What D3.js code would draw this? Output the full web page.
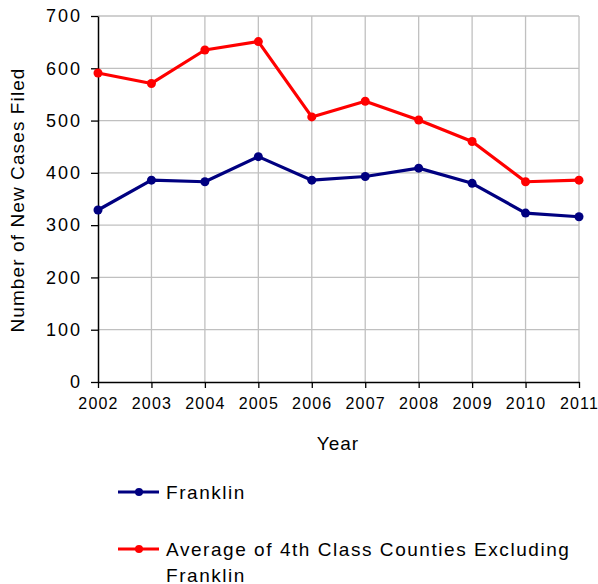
<!DOCTYPE html>
<html>
<head>
<meta charset="utf-8">
<script src="https://cdn.jsdelivr.net/npm/d3@7"></script>
<style>
  body { margin: 0; background: #fff; }
  svg { display: block; font-family: "Liberation Sans", Arial, sans-serif; }
</style>
</head>
<body>
<svg id="chart" width="598" height="584"></svg>
<script>
// data
var years = [2002, 2003, 2004, 2005, 2006, 2007, 2008, 2009, 2010, 2011];
var franklin = [329, 386, 383, 431, 386, 393, 409, 380, 323, 316];
var average4th = [591, 571, 635, 651, 507, 537, 501, 460, 383, 386];
var yTicks = [0, 100, 200, 300, 400, 500, 600, 700];

var seriesNames = ["Franklin", "Average of 4th Class Counties Excluding Franklin"];
var seriesColors = ["#000080", "#ff0000"];

var svg = d3.select("#chart");
var plotLeft = 98, plotRight = 579, plotTop = 16, plotBottom = 382;

var x = d3.scalePoint().domain(years).range([plotLeft, plotRight]);
var y = d3.scaleLinear().domain([0, 700]).range([plotBottom, plotTop]);

// grid
var grid = svg.append("g");
grid.selectAll("line.h").data(yTicks.slice(1)).enter().append("line")
  .attr("x1", plotLeft).attr("x2", plotRight)
  .attr("y1", function(d) { return y(d); }).attr("y2", function(d) { return y(d); })
  .attr("stroke", "#c0c0c0").attr("stroke-width", 1.3);
grid.selectAll("line.v").data(years.slice(1)).enter().append("line")
  .attr("y1", plotTop).attr("y2", plotBottom)
  .attr("x1", function(d) { return x(d); }).attr("x2", function(d) { return x(d); })
  .attr("stroke", "#c0c0c0").attr("stroke-width", 1.3);

// axes
var yAxis = svg.append("g").attr("transform", "translate(" + plotLeft + ",0)")
  .call(d3.axisLeft(y).tickValues(yTicks).tickSize(7).tickPadding(9).tickSizeOuter(0));
yAxis.select(".domain").attr("stroke", "#000").attr("stroke-width", 1.5);
yAxis.selectAll(".tick line").attr("stroke", "#000").attr("stroke-width", 1.3);
yAxis.selectAll("text").attr("font-size", 18).attr("fill", "#000")
  .attr("font-family", "Liberation Sans, Arial, sans-serif")
  .style("letter-spacing", "2px");

var xAxis = svg.append("g").attr("transform", "translate(0," + plotBottom + ")")
  .call(d3.axisBottom(x).tickSize(6).tickPadding(10).tickSizeOuter(0));
xAxis.select(".domain").attr("stroke", "#000").attr("stroke-width", 1.5);
xAxis.selectAll(".tick line").attr("stroke", "#000").attr("stroke-width", 1.3);
xAxis.selectAll("text").attr("font-size", 16).attr("fill", "#000")
  .attr("font-family", "Liberation Sans, Arial, sans-serif")
  .style("letter-spacing", "1.2px");

// axis titles
svg.append("text")
  .attr("transform", "translate(24," + ((plotTop + plotBottom) / 2 + 1) + ") rotate(-90)")
  .attr("text-anchor", "middle").attr("font-size", 19)
  .style("letter-spacing", "1.1px")
  .text("Number of New Cases Filed");
svg.append("text")
  .attr("x", 338).attr("y", 450)
  .attr("text-anchor", "middle").attr("font-size", 19)
  .style("letter-spacing", "1px")
  .text("Year");

// lines
var line = d3.line().x(function(d, i) { return x(years[i]); }).y(function(d) { return y(d); });
[franklin, average4th].forEach(function(vals, k) {
  svg.append("path").datum(vals)
    .attr("d", line).attr("fill", "none")
    .attr("stroke", seriesColors[k]).attr("stroke-width", 3.2)
    .attr("stroke-linejoin", "round");
  svg.selectAll("circle.s" + k).data(vals).enter().append("circle")
    .attr("class", "s" + k)
    .attr("cx", function(d, i) { return x(years[i]); })
    .attr("cy", function(d) { return y(d); })
    .attr("r", 4.5).attr("fill", seriesColors[k]);
});

// legend
var legendY = [492, 549];
var leg = svg.append("g");
seriesNames.forEach(function(name, k) {
  var ly = legendY[k];
  leg.append("line").attr("x1", 118).attr("x2", 159).attr("y1", ly).attr("y2", ly)
    .attr("stroke", seriesColors[k]).attr("stroke-width", 3.2);
  leg.append("circle").attr("cx", 139).attr("cy", ly).attr("r", 4).attr("fill", seriesColors[k]);
  var t = leg.append("text").attr("x", 166).attr("y", ly + 7)
    .attr("font-size", 19).style("letter-spacing", "1.55px");
  if (k === 1) {
    t.append("tspan").attr("x", 166).text("Average of 4th Class Counties Excluding");
    t.append("tspan").attr("x", 166).attr("dy", 26).text("Franklin");
  } else {
    t.text(name);
  }
});
</script>
</body>
</html>
